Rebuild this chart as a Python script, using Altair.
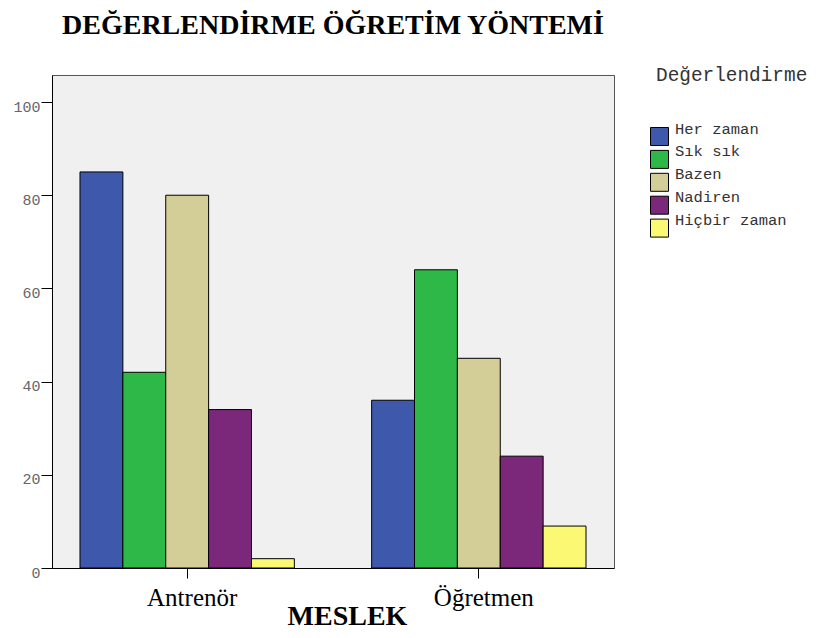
import altair as alt
import pandas as pd

meslek = ["Antrenör", "Öğretmen"]
kategoriler = ["Her zaman", "Sık sık", "Bazen", "Nadiren", "Hiçbir zaman"]
antrenor = [85, 42, 80, 34, 2]
ogretmen = [36, 64, 45, 24, 9]
renkler = ["#3E58AC", "#2EB848", "#D3CE97", "#7B287B", "#FBF873"]

rows = []
for i, k in enumerate(kategoriler):
    rows.append({"MESLEK": meslek[0], "Değerlendirme": k, "deger": antrenor[i]})
    rows.append({"MESLEK": meslek[1], "Değerlendirme": k, "deger": ogretmen[i]})
df = pd.DataFrame(rows)

bars = alt.Chart(df).mark_bar(stroke="black", strokeWidth=1).encode(
    x=alt.X("MESLEK:N", sort=meslek,
            scale=alt.Scale(paddingInner=0.265, paddingOuter=0.096),
            axis=alt.Axis(title="MESLEK", labelAngle=0, labelFont="Liberation Serif",
                          labelFontSize=25, labelColor="black", labelPadding=27,
                          labelBaseline="alphabetic", labelOffset=5,
                          tickSize=10, tickColor="black", domainColor="black",
                          titleFont="Liberation Serif", titleFontSize=28,
                          titleFontWeight="bold", titleColor="black",
                          titleX=295, titleY=56, titleBaseline="alphabetic",
                          titleAlign="center")),
    xOffset=alt.XOffset("Değerlendirme:N", sort=kategoriler,
                        scale=alt.Scale(paddingInner=0, paddingOuter=0)),
    y=alt.Y("deger:Q", scale=alt.Scale(domain=[0, 105.8], nice=False),
            axis=alt.Axis(title=None, values=[0, 20, 40, 60, 80, 100],
                          labelFont="Liberation Mono", labelFontSize=15,
                          labelColor="#666666", tickSize=11, tickColor="black",
                          domainColor="black", grid=False, labelPadding=1,
                          labelBaseline="alphabetic", labelOffset=9)),
    color=alt.Color("Değerlendirme:N", sort=kategoriler,
                    scale=alt.Scale(domain=kategoriler, range=renkler),
                    legend=alt.Legend(title=None, orient="none",
                                      legendX=598, legendY=52,
                                      labelFont="Liberation Mono", labelFontSize=15.5,
                                      labelColor="#333333", labelBaseline="bottom",
                                      labelOffset=6,
                                      symbolType="square", symbolSize=324,
                                      symbolStrokeColor="black", symbolStrokeWidth=1,
                                      symbolOpacity=1, rowPadding=-4.1, padding=0)),
)

legend_title = alt.Chart(pd.DataFrame({"t": ["Değerlendirme"]})).mark_text(
    font="Liberation Mono", fontSize=19.4, color="#333333",
    align="left", baseline="alphabetic"
).encode(text="t:N", x=alt.value(604), y=alt.value(5.7))

chart = alt.layer(bars, legend_title).properties(
    width=562,
    height=493,
    title=alt.TitleParams("DEĞERLENDİRME ÖĞRETİM YÖNTEMİ", font="Liberation Serif",
                          fontSize=28, fontWeight="bold", color="black",
                          anchor="middle", frame="group", offset=25),
    autosize=alt.AutoSizeParams(type="none"),
    padding={"left": 44, "top": 67, "right": 194, "bottom": 62},
).configure_view(
    fill="#F0F0F0", stroke="#555555", strokeWidth=1
)

chart.save("out.html", embed_options={"renderer": "svg", "actions": False})
